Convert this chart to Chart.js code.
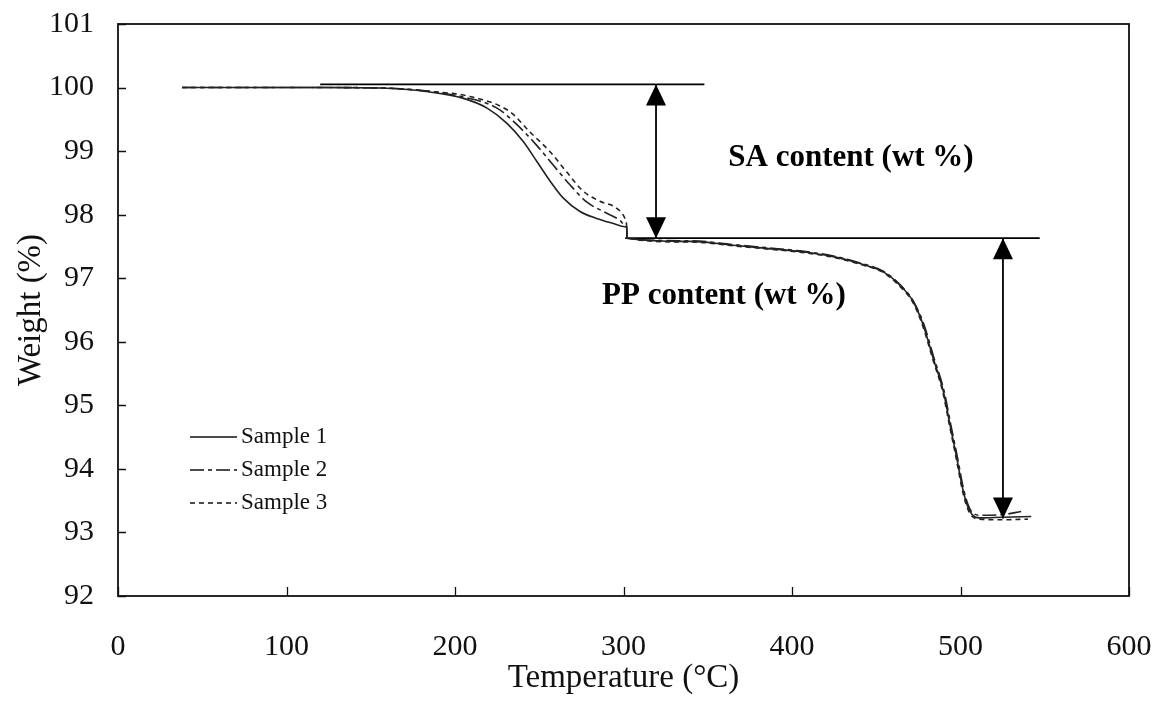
<!DOCTYPE html>
<html>
<head>
<meta charset="utf-8">
<script src="https://cdn.jsdelivr.net/npm/chart.js@4.4.1/dist/chart.umd.min.js"></script>
<style>
    html, body { margin: 0; padding: 0; background: #fff; }
    #tga_chart { display: block; }
</style>
</head>
<body>
<canvas id="tga_chart" width="1159" height="704"></canvas>
<script>
// TGA curves, temperature (°C) vs weight (%)
const sample1Temp = [38, 120, 159.5, 185.2, 205, 218.8, 230.7, 240.5, 248.5, 256.4, 264.3, 274.2, 284.1, 294, 300.9, 301.9, 302.1, 339.5, 365.2, 385, 404.7, 424.5, 440.4, 454.2, 462.1, 472, 477.9, 483.8, 489.8, 493.8, 497.8, 501.7, 505.6, 511.6, 525, 542];
const sample1Weight = [100, 100, 99.99, 99.93, 99.83, 99.68, 99.44, 99.15, 98.84, 98.53, 98.26, 98.05, 97.94, 97.86, 97.81, 97.8, 97.63, 97.58, 97.52, 97.47, 97.42, 97.34, 97.23, 97.1, 96.94, 96.63, 96.26, 95.74, 95.22, 94.69, 94.17, 93.64, 93.33, 93.23, 93.24, 93.25];

const sample2Temp = [38, 120, 159.5, 185.2, 205, 224.7, 236.6, 248.5, 258.3, 268.2, 278.1, 288, 297.9, 300.9, 301.9, 302.1, 339.5, 365.2, 385, 404.7, 424.5, 440.4, 454.2, 462.1, 472, 478.3, 484.2, 490.2, 494.2, 498.2, 502.1, 506, 512, 525, 536];
const sample2Weight = [100, 100, 99.99, 99.94, 99.85, 99.68, 99.42, 99.09, 98.78, 98.47, 98.2, 98.05, 97.91, 97.83, 97.8, 97.63, 97.59, 97.53, 97.48, 97.43, 97.35, 97.24, 97.11, 96.95, 96.64, 96.27, 95.75, 95.23, 94.7, 94.18, 93.65, 93.35, 93.27, 93.28, 93.33];

const sample3Temp = [38, 120, 159.5, 185.2, 208.9, 232.6, 244.5, 256.4, 266.3, 276.1, 286, 296, 300.9, 301.9, 302.1, 339.5, 365.2, 385, 404.7, 424.5, 440.4, 454.2, 461.8, 471.7, 477.6, 483.5, 489.5, 493.5, 497.5, 501.4, 505.3, 511.3, 525, 540];
const sample3Weight = [100, 100, 99.99, 99.94, 99.86, 99.62, 99.3, 98.99, 98.67, 98.37, 98.21, 98.1, 97.94, 97.81, 97.63, 97.57, 97.51, 97.46, 97.41, 97.33, 97.22, 97.09, 96.93, 96.62, 96.25, 95.73, 95.21, 94.68, 94.16, 93.63, 93.31, 93.21, 93.2, 93.21];

const sampleNames = ["Sample 1", "Sample 2", "Sample 3"];
const sampleDashes = [[], [14, 4, 4, 4], [5, 4]];

// guide lines and arrows
const saTopTemp = [120, 348];
const saTopWeight = 100.05;
const midLineTemp = [301, 547];
const midLineWeight = 97.63;
const saArrowTemp = 319.3;
const saArrowWeight = [100.05, 97.63];
const ppArrowTemp = 525.2;
const ppArrowWeight = [97.63, 93.22];

// labels placed in data units
const saLabel = { text: "SA content (wt %)", x: 435, y: 98.89 };
const ppLabel = { text: "PP content (wt %)", x: 359.6, y: 96.72 };

const xTicks = [0, 100, 200, 300, 400, 500, 600];
const yTicks = [92, 93, 94, 95, 96, 97, 98, 99, 100, 101];

const serif = "'Liberation Serif', 'Times New Roman', serif";
const ink = "#000";

const toPoints = (xs, ys) => xs.map((x, i) => ({ x: x, y: ys[i] }));

const sampleSets = [
    toPoints(sample1Temp, sample1Weight),
    toPoints(sample2Temp, sample2Weight),
    toPoints(sample3Temp, sample3Weight),
];

const guide = (pts) => ({
    data: pts,
    borderColor: ink,
    borderWidth: 1.8,
    pointRadius: 0,
    fill: false,
    tension: 0,
});

const datasets = sampleSets.map((pts, i) => ({
    label: sampleNames[i],
    data: pts,
    borderColor: "#222",
    borderWidth: 1.6,
    borderDash: sampleDashes[i],
    pointRadius: 0,
    fill: false,
    cubicInterpolationMode: "monotone",
}));

datasets.push(guide(saTopTemp.map((t) => ({ x: t, y: saTopWeight }))));
datasets.push(guide(midLineTemp.map((t) => ({ x: t, y: midLineWeight }))));
datasets.push(guide(saArrowWeight.map((w) => ({ x: saArrowTemp, y: w }))));
datasets.push(guide(ppArrowWeight.map((w) => ({ x: ppArrowTemp, y: w }))));

// frame, inward ticks, arrow heads, notes and legend
const decorations = {
    id: "decorations",
    afterDraw(chart) {
        const ctx = chart.ctx;
        const area = chart.chartArea;
        const xs = chart.scales.x;
        const ys = chart.scales.y;
        ctx.save();

        ctx.strokeStyle = "#111";
        ctx.lineWidth = 1.8;
        ctx.strokeRect(area.left, area.top, area.right - area.left, area.bottom - area.top);

        ctx.beginPath();
        yTicks.forEach((v) => {
            const py = Math.round(ys.getPixelForValue(v)) + 0.5;
            ctx.moveTo(area.left, py);
            ctx.lineTo(area.left + 8, py);
        });
        xTicks.forEach((v) => {
            const px = Math.round(xs.getPixelForValue(v)) + 0.5;
            ctx.moveTo(px, area.bottom);
            ctx.lineTo(px, area.bottom - 9);
        });
        ctx.lineWidth = 1.3;
        ctx.stroke();

        // arrow heads, tip on the line ends
        const head = (t, w, dir) => {
            const px = xs.getPixelForValue(t);
            const py = ys.getPixelForValue(w);
            ctx.beginPath();
            ctx.moveTo(px, py);
            ctx.lineTo(px - 10, py + dir * 21);
            ctx.lineTo(px + 10, py + dir * 21);
            ctx.closePath();
            ctx.fillStyle = "#000";
            ctx.fill();
        };
        head(saArrowTemp, saArrowWeight[0], 1);
        head(saArrowTemp, saArrowWeight[1], -1);
        head(ppArrowTemp, ppArrowWeight[0], 1);
        head(ppArrowTemp, ppArrowWeight[1], -1);

        ctx.fillStyle = "#000";
        ctx.font = "bold 31px " + serif;
        ctx.textAlign = "center";
        ctx.textBaseline = "middle";
        [saLabel, ppLabel].forEach((lb) => {
            ctx.fillText(lb.text, xs.getPixelForValue(lb.x), ys.getPixelForValue(lb.y));
        });

        // legend, lower left inside the plot
        ctx.font = "23px " + serif;
        ctx.textAlign = "left";
        ctx.fillStyle = "#111";
        sampleNames.forEach((name, i) => {
            const ly = 437 + i * 33;
            ctx.beginPath();
            ctx.setLineDash(sampleDashes[i]);
            ctx.moveTo(190, ly);
            ctx.lineTo(237, ly);
            ctx.lineWidth = 1.5;
            ctx.strokeStyle = "#111";
            ctx.stroke();
            ctx.setLineDash([]);
            ctx.fillText(name, 241, ly);
        });

        ctx.restore();
    },
};

const tgaChart = new Chart(document.querySelector("#tga_chart").getContext("2d"), {
    type: "line",
    data: { datasets: datasets },
    options: {
        responsive: false,
        animation: false,
        layout: {
            padding: { top: 24, right: 30, left: 0, bottom: 0 },
        },
        plugins: {
            legend: { display: false },
            tooltip: { enabled: false },
        },
        scales: {
            x: {
                type: "linear",
                min: 0,
                max: 600,
                afterFit: (scale) => {
                    scale.height = 108;
                    scale.paddingLeft = 0;
                    scale.paddingRight = 0;
                },
                afterBuildTicks: (scale) => { scale.ticks = xTicks.map((v) => ({ value: v })); },
                grid: { display: false, drawTicks: false },
                border: { display: false },
                ticks: {
                    padding: 33,
                    color: "#111",
                    font: { family: serif, size: 30 },
                    maxRotation: 0,
                },
                title: {
                    display: true,
                    text: "Temperature (°C)",
                    color: "#111",
                    font: { family: serif, size: 33 },
                    padding: 6,
                },
            },
            y: {
                type: "linear",
                min: 92,
                max: 101,
                afterFit: (scale) => {
                    scale.width = 118;
                    scale.paddingTop = 0;
                    scale.paddingBottom = 0;
                },
                afterBuildTicks: (scale) => { scale.ticks = yTicks.map((v) => ({ value: v })); },
                grid: { display: false, drawTicks: false },
                border: { display: false },
                ticks: {
                    padding: 24,
                    color: "#111",
                    font: { family: serif, size: 30 },
                },
                title: {
                    display: true,
                    text: "Weight (%)",
                    color: "#111",
                    font: { family: serif, size: 33 },
                    padding: 12,
                },
            },
        },
    },
    plugins: [decorations],
});
</script>
</body>
</html>
